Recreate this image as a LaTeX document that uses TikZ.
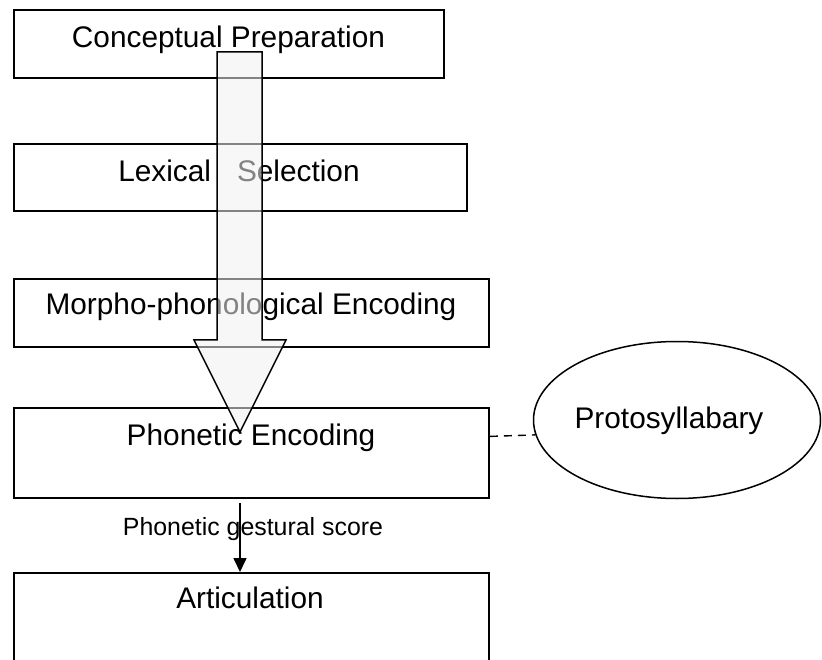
\documentclass[tikz,border=0pt]{standalone}
\usepackage{fontspec}
\setmainfont{Liberation Sans}
\usetikzlibrary{shapes.geometric,arrows.meta,calc}
\tikzset{
  stagebox/.style={draw=black,line width=1.9pt,rectangle,inner sep=0pt,anchor=north west,fill=none},
  stagetext/.style={anchor=base,inner sep=0pt,font=\fontsize{29.8}{34}\selectfont},
  labeltext/.style={anchor=base,inner sep=0pt,font=\fontsize{24.9}{30}\selectfont},
  bigarrow/.style={draw=black,line width=1.5pt,fill=black!6,fill opacity=0.55,line join=miter},
  dashlink/.style={line width=1.4pt,dash pattern=on 8pt off 6pt},
  flowarrow/.style={line width=1.6pt,-{Triangle[length=14pt,width=13pt]}}
}
\begin{document}
\begin{tikzpicture}[x=1pt,y=1pt]
\useasboundingbox (0,0) rectangle (822,-660);
% boxes
\node[stagebox,minimum width=430pt,minimum height=68pt] (b1) at (13,-9) {};
\node[stagebox,minimum width=453pt,minimum height=67pt] (b2) at (13,-143) {};
\node[stagebox,minimum width=475pt,minimum height=68pt] (b3) at (13,-278) {};
\node[stagebox,minimum width=475pt,minimum height=90pt] (b4) at (13,-407) {};
\node[stagebox,minimum width=475pt,minimum height=108pt] (b5) at (13,-572) {};
% texts
\node[stagetext] (t1) at (228.5,-48) {Conceptual Preparation};
\node[stagetext] (t2) at (239,-182) {Lexical\hspace{26pt}Selection};
\node[stagetext] (t3) at (251,-315) {Morpho-phonological Encoding};
\node[stagetext] (t4) at (251,-445) {Phonetic Encoding};
\node[stagetext] (t5) at (250,-608) {Articulation};
% protosyllabary
\node[draw=black,line width=1.5pt,ellipse,minimum width=287pt,minimum height=157pt,inner sep=0pt] (pro) at (677,-420) {};
\node[stagetext] (tp) at (669,-428) {Protosyllabary};
\coordinate (dl) at ($(b4.north east)!0.32!(b4.south east)$);
\draw[dashlink] (dl) -- (pro.186.5);
% big arrow
\draw[bigarrow] (217,-52) -- (262,-52) -- (262,-340) -- (286,-340) -- (240,-432) -- (194,-340) -- (217,-340) -- cycle;
% small arrow
\coordinate (gs) at (240,-503);
\draw[flowarrow] (gs) -- (gs |- b5.north);
\node[labeltext] (lg) at (253,-535) {Phonetic gestural score};
\end{tikzpicture}
\end{document}
